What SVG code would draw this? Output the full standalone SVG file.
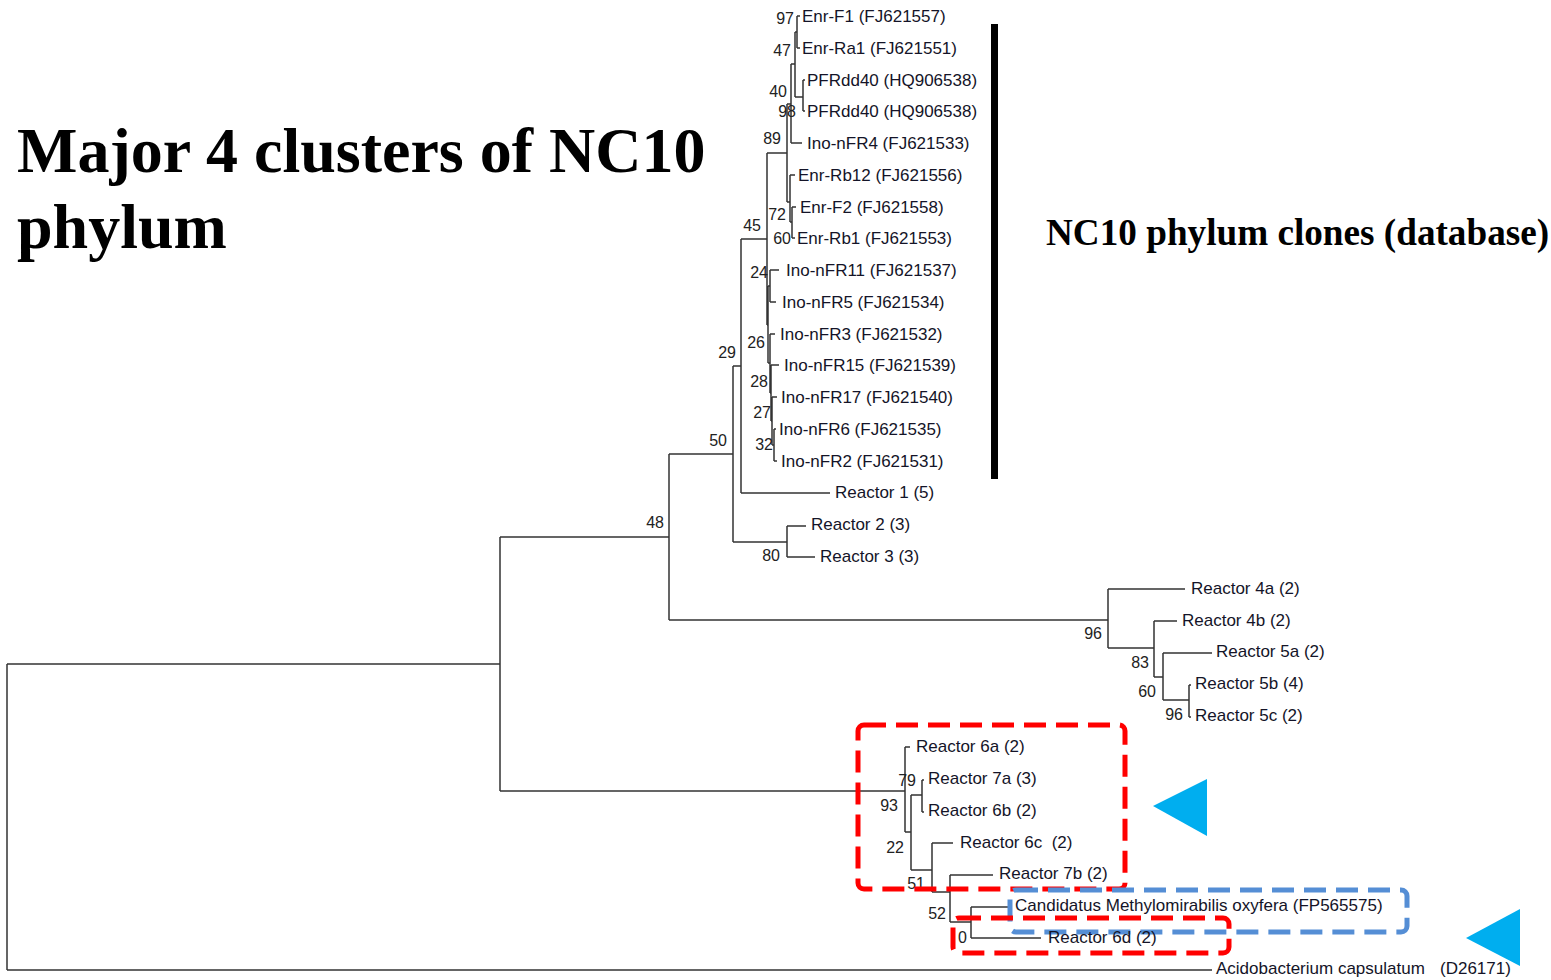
<svg xmlns="http://www.w3.org/2000/svg" width="1551" height="980" viewBox="0 0 1551 980">
<style>
.br{fill:none;stroke:#333;stroke-width:1.5}
.lf{font-family:"Liberation Sans",Arial,sans-serif;font-size:17px;fill:#141428}
.bs{font-family:"Liberation Sans",Arial,sans-serif;font-size:16px;fill:#222;text-anchor:end}
.ti{font-family:"Liberation Serif","Times New Roman",serif;font-weight:bold;fill:#000}
.red{fill:none;stroke:#f00;stroke-width:5;stroke-dasharray:22 10}
.blue{fill:none;stroke:#558ed5;stroke-width:5;stroke-dasharray:22 10}
.tri{fill:#00aeef}
</style>
<rect width="1551" height="980" fill="#fff"/>
<g id="title">
<text class="ti" x="17" y="172" font-size="64">Major 4 clusters of NC10</text>
<text class="ti" x="17" y="248" font-size="64">phylum</text>
</g>
<g id="database-bar">
<rect x="991" y="24" width="7" height="455" fill="#000"/>
<text class="ti" x="1046" y="245" font-size="37.2">NC10 phylum clones (database)</text>
</g>
<g id="connectors">
<path class="br" d="M797,16V48M797,16H800M797,48H800M795,32V97M795,32H797M803,80V111M803,80H805M803,111H805M795,97H803M791,64V143M791,64H795M791,143H802M787,104V202M787,104H791M792,207V238M792,207H796M792,238H795M790,175V222M790,175H795M790,222H792M787,202H790M767,153V325M767,153H787M770,270V302M770,270H779M770,302H776M768,286V363M768,286H770M767,325H768M770,334V393M770,334H775M768,363H770M771,365V421M771,365H779M770,393H771M772,397V445M772,397H777M771,421H772M774,429V461M774,429H776M774,461H777M772,445H774M741,239V493M741,239H767M741,493H830M733,366V542M733,366H741M787,526V557M787,526H806M787,557H815M733,542H787M669,454V620M669,454H733"/>
<path class="br" d="M669,620H1108M1108,589V648M1108,589H1185M1108,648H1154M1154,621V677M1154,621H1177M1154,677H1163M1163,653V700M1163,653H1212M1163,700H1189M1189,685V717M1189,685H1191M1189,717H1191"/>
<path class="br" d="M500,537V791M500,537H669M500,791H905M7,664V970M7,664H500M7,970H1212"/>
<path class="br" d="M905,747V832M905,747H910M905,832H911M922,780V812M922,780H924M922,812H924M911,795H922M911,795V870M911,870H932M932,843V892M932,843H953M932,892H950M950,875V922M950,875H993M950,922H971M971,907V938M971,907H1009M971,938H1041"/>
</g>
<g id="bootstrap">
<text class="bs" x="794" y="24">97</text>
<text class="bs" x="791" y="56">47</text>
<text class="bs" x="787" y="97">40</text>
<text class="bs" x="796" y="117">98</text>
<text class="bs" x="781" y="144">89</text>
<text class="bs" x="786" y="220">72</text>
<text class="bs" x="791" y="244">60</text>
<text class="bs" x="761" y="231">45</text>
<text class="bs" x="768" y="278">24</text>
<text class="bs" x="765" y="348">26</text>
<text class="bs" x="768" y="387">28</text>
<text class="bs" x="771" y="418">27</text>
<text class="bs" x="773" y="450">32</text>
<text class="bs" x="736" y="358">29</text>
<text class="bs" x="727" y="446">50</text>
<text class="bs" x="664" y="528">48</text>
<text class="bs" x="780" y="561">80</text>
<text class="bs" x="1102" y="639">96</text>
<text class="bs" x="1149" y="668">83</text>
<text class="bs" x="1156" y="697">60</text>
<text class="bs" x="1183" y="720">96</text>
<text class="bs" x="916" y="786">79</text>
<text class="bs" x="898" y="811">93</text>
<text class="bs" x="904" y="853">22</text>
<text class="bs" x="925" y="889">51</text>
<text class="bs" x="946" y="919">52</text>
<text class="bs" x="967" y="943">0</text>
</g>
<g id="highlights">
<rect class="red" x="858" y="725" width="267" height="164" rx="6"/>
<rect class="blue" x="1010" y="890" width="397" height="42" rx="6"/>
<rect class="red" x="953" y="918" width="276" height="35" rx="6"/>
<polygon class="tri" points="1153,806 1207,779 1207,836"/>
<polygon class="tri" points="1466,938 1520,909 1520,966"/>
</g>
<g id="leaf-enr-f1"><text class="lf" x="802" y="22">Enr-F1 (FJ621557)</text></g>
<g id="leaf-enr-ra1"><text class="lf" x="802" y="54">Enr-Ra1 (FJ621551)</text></g>
<g id="leaf-pfrdd40-a"><text class="lf" x="807" y="86">PFRdd40 (HQ906538)</text></g>
<g id="leaf-pfrdd40-b"><text class="lf" x="807" y="117">PFRdd40 (HQ906538)</text></g>
<g id="leaf-ino-nfr4"><text class="lf" x="807" y="149">Ino-nFR4 (FJ621533)</text></g>
<g id="leaf-enr-rb12"><text class="lf" x="798" y="181">Enr-Rb12 (FJ621556)</text></g>
<g id="leaf-enr-f2"><text class="lf" x="800" y="213">Enr-F2 (FJ621558)</text></g>
<g id="leaf-enr-rb1"><text class="lf" x="797" y="244">Enr-Rb1 (FJ621553)</text></g>
<g id="leaf-ino-nfr11"><text class="lf" x="786" y="276">Ino-nFR11 (FJ621537)</text></g>
<g id="leaf-ino-nfr5"><text class="lf" x="782" y="308">Ino-nFR5 (FJ621534)</text></g>
<g id="leaf-ino-nfr3"><text class="lf" x="780" y="340">Ino-nFR3 (FJ621532)</text></g>
<g id="leaf-ino-nfr15"><text class="lf" x="784" y="371">Ino-nFR15 (FJ621539)</text></g>
<g id="leaf-ino-nfr17"><text class="lf" x="781" y="403">Ino-nFR17 (FJ621540)</text></g>
<g id="leaf-ino-nfr6"><text class="lf" x="779" y="435">Ino-nFR6 (FJ621535)</text></g>
<g id="leaf-ino-nfr2"><text class="lf" x="781" y="467">Ino-nFR2 (FJ621531)</text></g>
<g id="leaf-reactor1"><text class="lf" x="835" y="498">Reactor 1 (5)</text></g>
<g id="leaf-reactor2"><text class="lf" x="811" y="530">Reactor 2 (3)</text></g>
<g id="leaf-reactor3"><text class="lf" x="820" y="562">Reactor 3 (3)</text></g>
<g id="leaf-reactor4a"><text class="lf" x="1191" y="594">Reactor 4a (2)</text></g>
<g id="leaf-reactor4b"><text class="lf" x="1182" y="626">Reactor 4b (2)</text></g>
<g id="leaf-reactor5a"><text class="lf" x="1216" y="657">Reactor 5a (2)</text></g>
<g id="leaf-reactor5b"><text class="lf" x="1195" y="689">Reactor 5b (4)</text></g>
<g id="leaf-reactor5c"><text class="lf" x="1195" y="721">Reactor 5c (2)</text></g>
<g id="leaf-reactor6a"><text class="lf" x="916" y="752">Reactor 6a (2)</text></g>
<g id="leaf-reactor7a"><text class="lf" x="928" y="784">Reactor 7a (3)</text></g>
<g id="leaf-reactor6b"><text class="lf" x="928" y="816">Reactor 6b (2)</text></g>
<g id="leaf-reactor6c"><text class="lf" x="960" y="848" xml:space="preserve">Reactor 6c  (2)</text></g>
<g id="leaf-reactor7b"><text class="lf" x="999" y="879">Reactor 7b (2)</text></g>
<g id="leaf-candidatus"><text class="lf" x="1015" y="911">Candidatus Methylomirabilis oxyfera (FP565575)</text></g>
<g id="leaf-reactor6d"><text class="lf" x="1048" y="943">Reactor 6d (2)</text></g>
<g id="leaf-acidobacterium"><text class="lf" x="1216" y="974">Acidobacterium capsulatum<tspan x="1440">(D26171)</tspan></text></g>
</svg>
